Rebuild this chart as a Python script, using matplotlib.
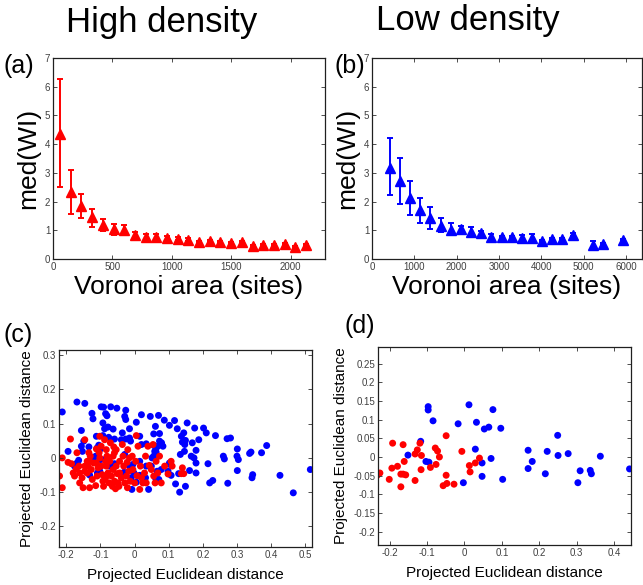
import matplotlib
matplotlib.use("Agg")
import matplotlib.pyplot as plt

plt.rcParams["font.family"] = ["Liberation Sans", "DejaVu Sans"]

# ---- (a) high density: median WI vs Voronoi area ----
hi_area = [60, 150, 240, 330, 420, 510, 600, 690, 780, 870, 960, 1050,
           1140, 1230, 1320, 1410, 1500, 1590, 1680, 1770, 1860, 1950, 2040, 2130]
hi_med = [4.35, 2.32, 1.86, 1.45, 1.20, 1.04, 1.00, 0.83, 0.77, 0.77, 0.73, 0.70,
          0.66, 0.60, 0.62, 0.59, 0.57, 0.59, 0.46, 0.48, 0.48, 0.52, 0.41, 0.49]
hi_err_lo = [1.85, 0.75, 0.43, 0.32, 0.22, 0.20, 0.14, 0.12, 0.09, 0.10, 0.06, 0.05,
             0.05, 0.04, 0.03, 0.04, 0.03, 0.03, 0.04, 0.03, 0.03, 0.03, 0.03, 0.02]
hi_err_hi = [1.92, 0.78, 0.41, 0.29, 0.19, 0.17, 0.17, 0.12, 0.11, 0.11, 0.08, 0.06,
             0.06, 0.04, 0.03, 0.04, 0.03, 0.03, 0.04, 0.03, 0.03, 0.03, 0.03, 0.02]

# ---- (b) low density ----
lo_area = [430, 670, 900, 1140, 1380, 1620, 1860, 2100, 2340, 2580, 2820, 3060,
           3300, 3540, 3780, 4020, 4260, 4500, 4740, 5220, 5460, 5940]
lo_med = [3.18, 2.73, 2.13, 1.72, 1.43, 1.16, 1.02, 1.05, 0.93, 0.90, 0.78, 0.76,
          0.76, 0.72, 0.74, 0.62, 0.69, 0.71, 0.84, 0.49, 0.53, 0.67]
lo_err_lo = [0.96, 0.81, 0.59, 0.47, 0.38, 0.23, 0.18, 0.12, 0.09, 0.08, 0.09, 0.03,
             0.04, 0.08, 0.10, 0.03, 0.03, 0.03, 0.05, 0.12, 0.03, 0.03]
lo_err_hi = [1.02, 0.80, 0.58, 0.41, 0.38, 0.27, 0.23, 0.11, 0.18, 0.08, 0.10, 0.03,
             0.04, 0.12, 0.14, 0.03, 0.03, 0.03, 0.05, 0.12, 0.03, 0.03]

# ---- (c) projected distances, high density ----
c_blue_x = [-0.212, -0.169, -0.146, -0.125, -0.122, -0.098, -0.091, -0.085, -0.081, -0.070,
            -0.052, -0.026, -0.029, -0.026, 0.020, 0.046, 0.070, 0.087, 0.117, 0.102,
            0.125, 0.154, 0.176, 0.202, 0.210, 0.237, 0.271, 0.281, 0.387, 0.301,
            0.337, 0.341, 0.372, 0.260, 0.263, 0.300, 0.304, 0.301, 0.215, 0.220,
            0.229, 0.273, 0.346, 0.344, 0.426, 0.465, 0.515, 0.180, 0.161, 0.149,
            0.132, 0.120, 0.129, 0.140, 0.147, 0.137, 0.144, 0.149, 0.134, 0.146,
            0.166, 0.174, 0.180, 0.180, 0.188, 0.169, 0.102, 0.107, 0.098, 0.107,
            0.078, 0.066, 0.061, 0.071, 0.083, 0.079, 0.073, 0.068, 0.063, 0.057,
            0.059, 0.063, 0.056, 0.051, 0.061, 0.056, 0.073, 0.034, 0.041, 0.032,
            0.015, 0.005, -0.002, -0.010, -0.008, -0.015, -0.005, 0.015, 0.020, 0.015,
            0.005, -0.015, -0.012, -0.015, -0.026, -0.036, -0.039, -0.029, -0.031, -0.059,
            -0.063, -0.078, -0.076, -0.088, -0.093, -0.093, -0.102, -0.105, -0.112, -0.110,
            -0.114, -0.120, -0.109, -0.102, -0.132, -0.134, -0.156, -0.153, -0.156, -0.149,
            -0.164, -0.169, -0.176, -0.195, -0.088, -0.100, -0.059, -0.073, 0.034, 0.049]
c_blue_y = [0.134, 0.163, 0.159, 0.130, 0.114, 0.149, 0.148, 0.129, 0.123, 0.149,
            0.145, 0.139, 0.121, 0.112, 0.126, 0.121, 0.124, 0.110, 0.109, 0.095,
            0.085, 0.102, 0.087, 0.087, 0.073, 0.065, 0.056, 0.058, 0.036, 0.026,
            0.013, 0.017, 0.015, 0.005, -0.003, 0.005, -0.005, -0.037, -0.017, -0.073,
            -0.066, -0.074, -0.049, -0.058, -0.051, -0.102, -0.034, -0.044, -0.037, -0.083,
            -0.100, -0.076, -0.046, 0.046, 0.039, 0.063, 0.073, 0.051, 0.010, 0.019,
            0.005, 0.000, -0.015, 0.022, 0.053, 0.044, -0.015, -0.022, -0.039, -0.051,
            -0.034, -0.039, -0.058, -0.063, 0.034, 0.044, 0.049, 0.034, 0.029, 0.036,
            0.019, 0.017, 0.005, 0.000, 0.092, 0.070, 0.071, 0.041, -0.092, -0.058,
            -0.051, -0.071, -0.044, -0.058, -0.092, -0.024, -0.019, -0.010, 0.039, 0.063,
            0.104, 0.085, 0.049, 0.058, 0.055, 0.073, 0.053, 0.010, -0.042, 0.055,
            0.084, 0.090, 0.060, 0.085, 0.102, 0.065, 0.024, 0.037, 0.063, 0.029,
            0.005, 0.000, -0.044, -0.039, -0.050, 0.032, 0.034, 0.019, 0.080, 0.049,
            -0.007, -0.015, -0.024, 0.019, -0.005, -0.005, -0.017, -0.024, -0.024, -0.024]
c_red_x = [-0.220, -0.212, -0.212, -0.188, -0.195, -0.185, -0.180, -0.176, -0.169, -0.171,
           -0.161, -0.161, -0.154, -0.151, -0.146, -0.146, -0.146, -0.139, -0.137, -0.132,
           -0.130, -0.127, -0.124, -0.120, -0.114, -0.112, -0.110, -0.107, -0.104, -0.102,
           -0.102, -0.098, -0.098, -0.095, -0.093, -0.091, -0.085, -0.083, -0.083, -0.081,
           -0.078, -0.075, -0.073, -0.071, -0.068, -0.065, -0.063, -0.063, -0.061, -0.059,
           -0.056, -0.054, -0.051, -0.049, -0.046, -0.044, -0.039, -0.036, -0.034, -0.032,
           -0.029, -0.024, -0.022, -0.021, -0.020, -0.017, -0.015, -0.013, -0.007, -0.005,
           0.000, 0.003, 0.005, 0.007, 0.010, 0.015, 0.017, 0.020, 0.024, 0.029,
           0.032, 0.034, 0.039, 0.043, 0.049, 0.054, 0.056, 0.060, 0.063, 0.068,
           0.073, 0.078, 0.088, 0.098, 0.107, 0.110, 0.140, 0.144, 0.137, -0.163,
           -0.139, -0.132, -0.085, -0.059, -0.044, -0.054, -0.088, -0.112, -0.134]
c_red_y = [-0.053, -0.087, 0.000, 0.055, -0.013, -0.017, -0.044, -0.053, 0.015, -0.032,
           -0.073, -0.044, -0.058, -0.087, 0.053, -0.024, -0.039, -0.010, -0.024, -0.087,
           0.005, -0.034, -0.063, -0.015, -0.081, -0.015, -0.053, -0.029, 0.015, 0.000,
           0.063, 0.034, -0.024, -0.049, -0.068, -0.083, -0.058, -0.024, 0.024, 0.005,
           -0.044, -0.073, -0.010, 0.044, -0.053, -0.083, -0.034, 0.005, 0.032, -0.068,
           -0.090, -0.024, -0.046, -0.073, -0.083, -0.010, -0.058, 0.039, 0.005, -0.024,
           -0.073, -0.053, -0.013, -0.087, 0.024, -0.039, 0.000, -0.068, 0.005, -0.034,
           -0.073, -0.010, 0.065, -0.052, 0.034, -0.092, -0.024, -0.058, -0.073, -0.044,
           0.005, -0.073, 0.034, -0.022, -0.034, 0.039, -0.053, -0.073, -0.010, -0.044,
           0.005, -0.073, -0.024, -0.047, -0.010, -0.024, -0.029, -0.046, -0.046, -0.024,
           -0.044, -0.010, -0.010, 0.015, -0.044, 0.024, 0.053, 0.026, 0.015]

# ---- (d) projected distances, low density ----
d_red_x = [-0.233, -0.226, -0.201, -0.194, -0.192, -0.179, -0.170, -0.170, -0.161, -0.164,
           -0.164, -0.157, -0.132, -0.132, -0.126, -0.119, -0.116, -0.115, -0.091, -0.078,
           -0.072, -0.076, -0.067, -0.057, -0.049, -0.047, -0.049, -0.028, -0.007, 0.013,
           0.015, 0.029, 0.040]
d_red_y = [-0.049, -0.043, -0.060, -0.030, 0.037, -0.025, -0.080, -0.046, -0.012, 0.033,
           -0.046, -0.048, -0.063, 0.008, 0.019, 0.037, -0.034, 0.004, -0.028, 0.024,
           0.016, -0.020, 0.000, -0.077, 0.057, -0.071, -0.049, -0.073, 0.015, -0.023,
           -0.040, -0.016, -0.003]
d_blue_x = [-0.151, -0.117, -0.103, -0.097, -0.097, -0.095, -0.084, -0.017, -0.003, 0.012,
            0.029, 0.032, 0.047, 0.047, 0.053, 0.065, 0.071, 0.076, 0.097, 0.102,
            0.170, 0.170, 0.181, 0.216, 0.221, 0.249, 0.250, 0.277, 0.303, 0.309,
            0.336, 0.339, 0.363, 0.441]
d_blue_y = [0.005, 0.042, -0.012, 0.135, 0.126, -0.014, 0.097, 0.089, -0.069, 0.140,
            0.021, 0.093, -0.016, -0.052, 0.075, 0.080, -0.004, 0.127, 0.077, -0.060,
            0.018, -0.031, -0.012, -0.045, 0.015, 0.058, 0.004, 0.009, -0.069, -0.037,
            -0.036, -0.045, 0.002, -0.032]

RED = (1, 0, 0)
BLUE = (0, 0, 1)
TICK_GREY = "#404040"


def style_axes(ax):
    ax.tick_params(direction="in", top=True, right=True, length=3, width=0.6,
                   labelsize=7, labelcolor=TICK_GREY, colors="#303030", pad=2)
    for sp in ax.spines.values():
        sp.set_linewidth(0.9)
        sp.set_color("#202020")


def med_panel(ax, x, y, lo, hi, color, xlim, xticks):
    ax.errorbar(x, y, yerr=[lo, hi], fmt="^", color=color, ecolor=color,
                markersize=6.5, elinewidth=1.4, capsize=2.5, capthick=1.4)
    ax.set_xlim(*xlim)
    ax.set_ylim(0, 7)
    ax.set_xticks(xticks)
    ax.set_yticks(range(8))
    ax.set_xlabel("Voronoi area (sites)", fontsize=19, labelpad=2)
    ax.set_ylabel("med(WI)", fontsize=19, labelpad=3)
    style_axes(ax)


def scatter_panel(ax, bx, by, rx, ry, xlim, ylim, xticks, yticks, ylabels):
    ax.scatter(bx, by, s=25, color=BLUE, edgecolors="none")
    ax.scatter(rx, ry, s=25, color=RED, edgecolors="none")
    ax.set_xlim(*xlim)
    ax.set_ylim(*ylim)
    ax.set_xticks(xticks)
    ax.set_xticklabels([f"{t:g}" for t in xticks])
    ax.set_yticks(yticks)
    ax.set_yticklabels(ylabels)
    ax.set_xlabel("Projected Euclidean distance", fontsize=11, labelpad=6)
    ax.set_ylabel("Projected Euclidean distance", fontsize=11, labelpad=4)
    style_axes(ax)


fig = plt.figure(figsize=(6.43, 5.85), dpi=100)

ax_a = fig.add_axes([0.0824, 0.5573, 0.423, 0.3436])
med_panel(ax_a, hi_area, hi_med, hi_err_lo, hi_err_hi, RED, (0, 2290),
          [0, 500, 1000, 1500, 2000])

ax_b = fig.add_axes([0.5785, 0.5573, 0.42, 0.3436])
med_panel(ax_b, lo_area, lo_med, lo_err_lo, lo_err_hi, BLUE, (0, 6380),
          [0, 1000, 2000, 3000, 4000, 5000, 6000])

ax_c = fig.add_axes([0.0918, 0.065, 0.3935, 0.3368])
c_yticks = [-0.2, -0.1, 0, 0.1, 0.2, 0.3]
scatter_panel(ax_c, c_blue_x, c_blue_y, c_red_x, c_red_y, (-0.2215, 0.52), (-0.26, 0.315),
              [-0.2, -0.1, 0, 0.1, 0.2, 0.3, 0.4, 0.5], c_yticks,
              [f"{t:g}" for t in c_yticks])

ax_d = fig.add_axes([0.5879, 0.0684, 0.3935, 0.3385])
d_yticks = [-0.2, -0.15, -0.1, -0.05, 0, 0.05, 0.1, 0.15, 0.2, 0.25]
scatter_panel(ax_d, d_blue_x, d_blue_y, d_red_x, d_red_y, (-0.231, 0.445), (-0.236, 0.295),
              [-0.2, -0.1, 0, 0.1, 0.2, 0.3, 0.4], d_yticks,
              [f"{t:g}" for t in d_yticks])

fig.text(0.252, 0.962, "High density", fontsize=25, ha="center", va="center")
fig.text(0.727, 0.965, "Low density", fontsize=25, ha="center", va="center")
fig.text(0.005, 0.888, "(a)", fontsize=18, ha="left", va="center")
fig.text(0.52, 0.888, "(b)", fontsize=18, ha="left", va="center")
fig.text(0.005, 0.428, "(c)", fontsize=18, ha="left", va="center")
fig.text(0.535, 0.443, "(d)", fontsize=18, ha="left", va="center")

fig.savefig("out.png", dpi=100, facecolor="white")
